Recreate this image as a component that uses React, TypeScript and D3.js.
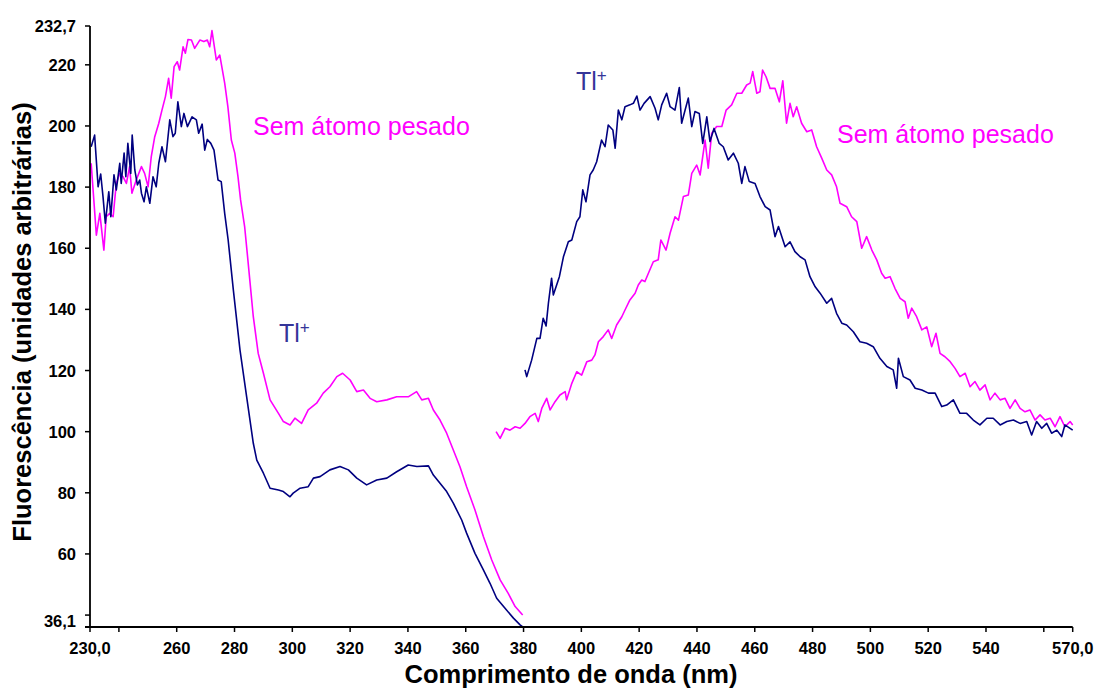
import React from "react";
import * as d3 from "d3";

// ---- data (wavelength nm, fluorescence a.u.) ----
const tlExcitation: [number, number][] = [
  [230.4,193.2],[231.6,197.0],[232.8,180.1],[233.7,184.3],[234.5,176.9],[235.3,168.2],[236.5,178.5],[237.2,170.3],[238.3,184.0],[239.1,179.1],[240.3,187.8],[240.8,181.2],[241.8,191.1],[242.4,183.4],[243.1,194.3],[244.1,184.5],[244.6,197.0],[245.5,185.6],[246.4,180.7],[247.2,182.3],[247.8,178.0],[248.7,175.2],[249.5,180.1],[250.7,174.7],[251.8,183.4],[252.9,180.1],[253.8,187.8],[254.9,193.2],[256.1,188.3],[257.6,202.0],[258.7,196.5],[259.5,197.6],[260.4,207.9],[261.6,199.8],[262.5,204.1],[263.7,199.8],[265.3,203.0],[266.8,202.0],[267.6,197.6],[268.8,200.6],[269.7,192.1],[270.6,195.6],[271.8,194.3],[272.9,192.1],[274.3,182.3],[275.4,181.8],[276.6,171.4],[277.8,162.7],[279.6,146.3],[281.9,126.7],[284.2,111.4],[286.5,96.2],[287.7,90.7],[290.0,86.4],[292.3,81.5],[295.2,80.9],[296.9,80.4],[299.2,78.7],[300.3,79.9],[302.7,81.5],[305.5,82.0],[307.3,84.8],[309.6,85.3],[313.0,87.5],[316.5,88.6],[319.4,87.5],[322.3,84.8],[325.7,82.6],[329.2,84.2],[332.7,84.8],[336.1,86.9],[340.1,89.1],[343.1,88.6],[347.1,88.8],[348.8,85.8],[351.1,83.1],[353.4,80.4],[355.7,76.6],[358.6,71.1],[360.3,66.8],[363.2,60.2],[366.1,54.8],[368.4,50.4],[370.7,45.5],[373.6,42.2],[376.5,39.0],[378.8,36.8],[379.6,36.2]
];

const heavyFreeExcitation: [number, number][] = [
  [230.4,187.8],[232.2,164.3],[233.4,171.4],[234.8,159.4],[235.6,170.3],[236.8,171.4],[238.0,170.3],[239.1,181.2],[240.3,184.5],[241.4,183.4],[242.6,181.2],[243.7,186.7],[244.5,178.0],[246.0,182.3],[247.8,186.7],[248.9,184.5],[250.1,180.1],[251.2,190.0],[252.4,196.5],[253.8,200.9],[254.9,205.2],[256.1,209.6],[257.2,215.6],[258.1,209.1],[259.1,219.4],[260.2,221.0],[261.0,218.3],[262.2,225.9],[263.0,223.8],[263.9,228.3],[265.1,228.1],[266.2,225.4],[268.0,228.1],[269.4,227.6],[270.6,228.1],[271.4,225.9],[272.2,231.2],[273.7,221.6],[274.9,223.2],[276.6,214.0],[277.7,206.3],[278.9,195.4],[280.1,191.1],[281.2,183.4],[282.1,175.8],[283.5,167.1],[284.4,158.4],[285.4,148.5],[286.5,137.6],[288.2,125.6],[290.0,119.1],[292.3,110.4],[295.2,106.0],[296.9,103.3],[299.2,102.2],[300.9,104.4],[303.2,102.7],[305.5,107.1],[308.4,109.3],[310.7,112.6],[313.0,114.7],[315.4,118.0],[317.4,119.1],[320.0,116.9],[322.3,113.1],[324.6,113.6],[326.9,110.9],[329.2,109.8],[332.7,110.4],[336.1,111.4],[340.1,111.4],[343.0,113.1],[344.8,110.4],[347.1,110.9],[348.8,107.1],[351.1,103.8],[353.4,99.5],[355.7,94.0],[358.0,88.5],[360.3,82.0],[363.2,74.4],[366.1,65.7],[369.0,58.0],[371.9,51.5],[374.7,47.1],[377.1,42.8],[379.7,40.0]
];

const tlEmission: [number, number][] = [
  [380.5,120.2],[381.1,118.0],[382.8,123.4],[384.6,130.5],[385.7,130.5],[386.8,137.1],[387.8,134.6],[388.6,142.0],[389.7,150.2],[390.3,144.7],[392.4,150.7],[393.8,157.2],[395.5,162.1],[396.7,162.7],[398.4,168.7],[399.5,170.3],[400.5,179.1],[401.6,175.2],[403.0,184.0],[404.1,185.6],[405.3,188.3],[407.0,195.4],[408.2,193.2],[409.3,200.3],[410.9,198.7],[411.7,192.7],[412.8,205.2],[414.0,202.0],[415.1,206.3],[416.8,206.9],[418.0,207.4],[419.2,209.8],[420.3,205.2],[421.7,207.4],[423.8,209.6],[425.5,205.8],[426.6,202.0],[427.8,206.9],[429.5,210.7],[430.7,206.3],[432.4,205.2],[433.9,212.6],[434.7,200.9],[435.9,205.2],[437.0,209.1],[438.2,199.8],[439.3,204.7],[440.8,204.1],[442.0,194.3],[443.4,203.0],[444.5,194.9],[445.9,199.2],[447.7,194.3],[449.1,193.2],[450.8,188.9],[452.6,191.1],[454.3,187.8],[455.5,181.2],[456.6,186.7],[458.1,181.8],[460.1,181.2],[461.8,176.9],[463.6,173.6],[465.3,172.5],[467.0,163.8],[468.2,167.1],[470.5,160.5],[472.2,162.1],[473.9,158.9],[475.7,157.2],[477.4,156.2],[479.1,150.7],[480.9,147.4],[482.6,145.3],[484.9,142.0],[486.6,143.6],[488.3,138.7],[490.1,135.5],[491.8,134.9],[494.1,132.7],[496.4,129.4],[498.7,128.9],[501.0,127.8],[503.3,124.0],[505.7,121.3],[507.9,120.2],[509.1,114.2],[509.7,124.0],[511.4,118.0],[513.7,116.9],[515.5,114.2],[517.8,113.6],[520.1,112.6],[522.4,112.6],[524.7,108.2],[526.4,108.7],[528.7,110.4],[531.0,106.0],[533.3,106.0],[535.6,103.8],[537.9,102.2],[540.3,104.4],[542.5,104.4],[544.9,102.2],[547.2,103.3],[549.5,103.8],[551.8,102.7],[554.1,103.3],[555.8,98.9],[557.5,103.3],[559.3,101.1],[561.0,102.7],[562.7,99.5],[564.5,100.5],[566.2,98.4],[567.3,102.2],[569.1,101.1],[570.0,100.5]
];

const heavyFreeEmission: [number, number][] = [
  [370.5,100.0],[371.9,97.8],[373.6,101.1],[375.3,100.5],[377.1,101.6],[378.8,101.1],[380.5,102.7],[382.2,104.9],[384.0,106.0],[385.1,103.3],[386.3,107.6],[388.0,110.9],[389.2,107.1],[390.9,109.8],[392.6,112.0],[394.4,113.1],[394.9,110.4],[396.7,115.8],[398.4,119.6],[400.1,118.5],[401.9,122.9],[403.6,123.4],[404.7,125.1],[405.9,129.4],[407.6,131.1],[409.3,133.3],[410.5,130.5],[412.2,134.9],[414.0,137.6],[415.1,139.8],[416.8,143.1],[418.6,145.3],[419.7,148.0],[420.9,149.6],[422.0,149.1],[423.2,151.8],[424.9,155.6],[426.6,156.2],[427.5,162.7],[429.3,159.4],[430.7,164.9],[432.4,170.3],[433.6,169.2],[435.3,176.9],[437.0,177.4],[438.2,184.5],[439.9,187.2],[441.1,184.0],[442.8,195.4],[443.9,186.2],[445.1,197.6],[446.8,199.8],[448.6,199.8],[450.1,205.2],[452.0,206.9],[453.8,210.7],[455.5,210.7],[457.2,213.4],[458.4,214.0],[459.3,217.8],[460.7,210.7],[461.8,211.2],[462.7,218.3],[463.9,216.1],[465.3,212.3],[467.0,212.3],[468.5,207.9],[469.7,214.8],[471.0,200.9],[472.2,207.4],[473.3,203.0],[474.5,206.3],[476.2,200.9],[478.0,198.1],[479.7,198.7],[481.4,193.2],[483.2,189.4],[484.9,185.6],[486.6,184.0],[488.3,180.1],[489.5,174.7],[491.8,173.6],[493.5,170.3],[495.3,168.7],[497.0,160.0],[498.7,163.8],[500.5,159.4],[502.2,156.2],[503.9,151.8],[505.1,150.2],[506.8,150.7],[508.5,146.9],[510.3,143.6],[512.0,142.5],[513.1,137.1],[514.3,140.4],[516.0,137.6],[517.8,133.3],[519.5,134.3],[521.2,127.8],[522.7,132.2],[524.1,125.6],[525.8,124.5],[527.6,122.9],[529.3,120.7],[531.0,118.0],[532.8,119.1],[534.5,114.7],[536.2,116.4],[537.9,113.6],[539.7,115.3],[541.4,110.4],[543.1,112.6],[544.9,110.4],[546.6,110.9],[548.3,107.6],[550.1,110.4],[551.8,107.6],[553.5,106.5],[555.2,107.1],[557.0,103.8],[558.7,105.5],[560.4,103.8],[562.2,104.4],[563.9,101.6],[565.6,104.9],[567.3,101.6],[569.1,103.3],[570.0,102.2]
];

const xTicks = [230, 240, 260, 280, 300, 320, 340, 360, 380, 400, 420, 440, 460, 480, 500, 520, 540, 560, 570];
const xLabels = ["230,0", "", "260", "280", "300", "320", "340", "360", "380", "400", "420", "440", "460", "480", "500", "520", "540", "", "570,0"];
const yTicks = [36.1, 40, 60, 80, 100, 120, 140, 160, 180, 200, 220, 232.7];
const yLabels = ["36,1", "", "60", "80", "100", "120", "140", "160", "180", "200", "220", "232,7"];

const NAVY = "#000080";
const MAGENTA = "#FF00FF";
const TL_TEXT = "#353599";
const FONT = "'Liberation Sans', Arial, Helvetica, sans-serif";

export default function App() {
  const W = 1098, H = 689;
  const x = d3.scaleLinear().domain([230, 570]).range([90, 1072.7]);
  const y = d3.scaleLinear().domain([36.1, 232.7]).range([627, 26]);
  const line = d3.line<[number, number]>().x(d => x(d[0])).y(d => y(d[1]));

  return (
    <svg width={W} height={H} style={{ position: "absolute", left: 0, top: 0, background: "#fff" }} fontFamily={FONT}>
      <rect x={0} y={0} width={W} height={H} fill="#fff" />
      {/* series */}
      <path d={line(heavyFreeExcitation) || ""} fill="none" stroke={MAGENTA} strokeWidth={1.6} strokeLinejoin="round" />
      <path d={line(tlExcitation) || ""} fill="none" stroke={NAVY} strokeWidth={1.6} strokeLinejoin="round" />
      <path d={line(heavyFreeEmission) || ""} fill="none" stroke={MAGENTA} strokeWidth={1.6} strokeLinejoin="round" />
      <path d={line(tlEmission) || ""} fill="none" stroke={NAVY} strokeWidth={1.6} strokeLinejoin="round" />

      {/* axes */}
      <line x1={x(230)} x2={x(230)} y1={y(232.7)} y2={y(36.1)} stroke="#000" strokeWidth={1.8} />
      <line x1={x(230) - 5} x2={x(570)} y1={y(36.1)} y2={y(36.1)} stroke="#000" strokeWidth={1.8} />
      {yTicks.map((t, i) => (
        <g key={"y" + i}>
          <line x1={x(230) - 5} x2={x(230)} y1={y(t)} y2={y(t)} stroke="#000" strokeWidth={1.5} />
          {yLabels[i] && (
            <text x={76} y={y(t) + (i === 0 ? -6 : 0)} textAnchor="end" dominantBaseline="central" fontSize={16.5} fontWeight="bold">{yLabels[i]}</text>
          )}
        </g>
      ))}
      {xTicks.map((t, i) => (
        <g key={"x" + i}>
          <line x1={x(t)} x2={x(t)} y1={y(36.1)} y2={y(36.1) + 5} stroke="#000" strokeWidth={1.5} />
          {xLabels[i] && (
            <text x={x(t)} y={654} textAnchor="middle" fontSize={16.5} fontWeight="bold">{xLabels[i]}</text>
          )}
        </g>
      ))}

      {/* axis titles */}
      <text x={571} y={683} textAnchor="middle" fontSize={25.5} fontWeight="bold">Comprimento de onda (nm)</text>
      <text transform={`translate(31,322) rotate(-90)`} textAnchor="middle" fontSize={25.5} fontWeight="bold">Fluorescência (unidades arbitrárias)</text>

      {/* annotations */}
      <text x={253} y={135} fontSize={25} fill={MAGENTA}>Sem átomo pesado</text>
      <text x={837} y={143} fontSize={25} fill={MAGENTA}>Sem átomo pesado</text>
      <text x={279} y={342} fontSize={25} fill={TL_TEXT}>Tl<tspan fontSize={17} dy={-9}>+</tspan></text>
      <text x={576} y={90} fontSize={25} fill={TL_TEXT}>Tl<tspan fontSize={17} dy={-9}>+</tspan></text>
    </svg>
  );
}
